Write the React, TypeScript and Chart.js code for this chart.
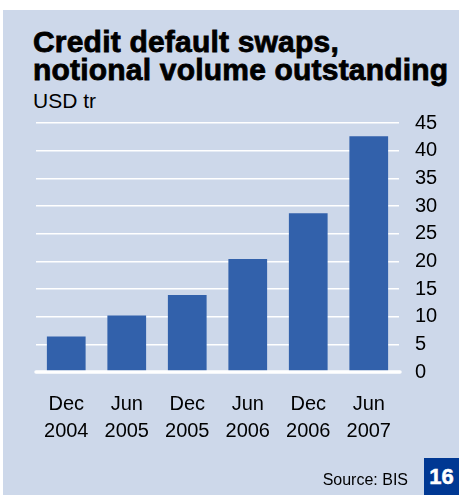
import React, { useEffect, useRef } from "react";
import { Chart, registerables } from "chart.js";

Chart.register(...registerables);

const categories: string[][] = [
  ["Dec", "2004"],
  ["Jun", "2005"],
  ["Dec", "2005"],
  ["Jun", "2006"],
  ["Dec", "2006"],
  ["Jun", "2007"],
];
const notionalOutstanding: number[] = [6.4, 10.2, 13.9, 20.4, 28.7, 42.6];
const yMin = 0;
const yMax = 45;
const yStep = 5;

const titleLines = ["Credit default swaps,", "notional volume outstanding"];
const unitLabel = "USD tr";
const sourceLabel = "Source: BIS";
const chartNumber = "16";

const PANEL = "#cdd8ea";
const BAR = "#3261ab";
const BADGE = "#003893";
const FONT = "'Liberation Sans', Arial, Helvetica, sans-serif";

const zeroLinePlugin = {
  id: "zeroLine",
  afterDatasetsDraw(chart: any) {
    const y = chart.scales.y.getPixelForValue(0);
    const { left, right } = chart.chartArea;
    const ctx = chart.ctx;
    ctx.save();
    ctx.strokeStyle = "#ffffff";
    ctx.lineWidth = 3.5;
    ctx.lineCap = "round";
    ctx.beginPath();
    ctx.moveTo(left, y);
    ctx.lineTo(right + 1, y);
    ctx.stroke();
    ctx.restore();
  },
};

export default function App() {
  const canvasRef = useRef<HTMLCanvasElement | null>(null);

  useEffect(() => {
    if (!canvasRef.current) return;
    Chart.defaults.font.family = FONT;
    const chart = new Chart(canvasRef.current, {
      type: "bar",
      data: {
        labels: categories,
        datasets: [
          {
            data: notionalOutstanding,
            backgroundColor: BAR,
            borderWidth: 0,
            barPercentage: 0.64,
            categoryPercentage: 1,
          },
        ],
      },
      options: {
        animation: false,
        responsive: false,
        maintainAspectRatio: false,
        devicePixelRatio: 1,
        layout: { padding: { left: 36, right: 0, top: 123, bottom: 43 } },
        plugins: {
          legend: { display: false },
          tooltip: { enabled: false },
          title: { display: false },
        },
        scales: {
          x: {
            grid: { display: false, drawTicks: false },
            border: { display: false },
            ticks: {
              color: "#000",
              font: { size: 20, lineHeight: 1.35 },
              padding: 19,
              maxRotation: 0,
              autoSkip: false,
            },
            afterFit(scale: any) {
              scale.height = 80;
            },
          },
          y: {
            position: "right",
            min: yMin,
            max: yMax,
            grid: {
              color: "#ffffff",
              lineWidth: (ctx: any) => (ctx.tick && ctx.tick.value === 0 ? 0 : 1.6),
              drawTicks: false,
            },
            border: { display: false },
            ticks: {
              stepSize: yStep,
              color: "#000",
              font: { size: 20 },
              padding: 16,
            },
            afterFit(scale: any) {
              scale.width = 60;
            },
          },
        },
      },
      plugins: [zeroLinePlugin],
    });
    return () => chart.destroy();
  }, []);

  return (
    <div style={{ position: "fixed", left: 0, top: 0, width: 459, height: 495, background: "#fff", fontFamily: FONT, overflow: "hidden" }}>
      <div style={{ position: "absolute", left: 3, top: 10, width: 456, height: 485, background: PANEL }} />
      <div
        style={{
          position: "absolute",
          left: 33,
          top: 28,
          fontSize: 30,
          fontWeight: 700,
          lineHeight: "28px",
          letterSpacing: "0.2px",
          color: "#000",
          whiteSpace: "nowrap",
          WebkitTextStroke: "0.8px #000",
        }}
      >
        {titleLines.map((l) => (
          <div key={l}>{l}</div>
        ))}
      </div>
      <div style={{ position: "absolute", left: 33, top: 90, fontSize: 21, lineHeight: "21px", color: "#000" }}>{unitLabel}</div>
      <canvas ref={canvasRef} width={459} height={495} style={{ position: "absolute", left: 0, top: 0, width: 459, height: 495 }} />
      <div style={{ position: "absolute", right: 51, top: 472, fontSize: 16, lineHeight: "16px", color: "#000" }}>{sourceLabel}</div>
      <div
        style={{
          position: "absolute",
          left: 424,
          top: 458,
          width: 35,
          height: 37,
          background: BADGE,
          color: "#fff",
          fontSize: 22,
          fontWeight: 700,
          lineHeight: "37px",
          textAlign: "center",
          WebkitTextStroke: "0.5px #fff",
        }}
      >
        {chartNumber}
      </div>
    </div>
  );
}
